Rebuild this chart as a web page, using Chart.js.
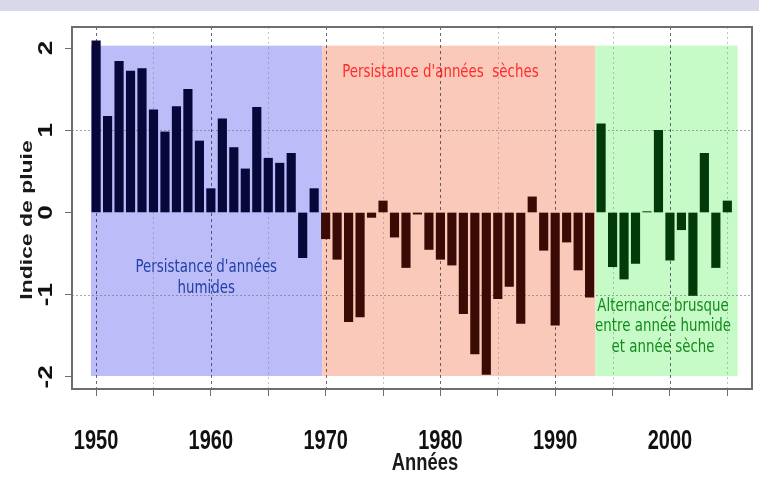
<!DOCTYPE html>
<html>
<head>
<meta charset="utf-8">
<script src="https://cdn.jsdelivr.net/npm/chart.js@4.4.0/dist/chart.umd.min.js"></script>
<style>
  html, body { margin: 0; padding: 0; background: #fff; }
  canvas { display: block; }
</style>
</head>
<body>
<canvas id="pluie" width="759" height="481"></canvas>
<script>
// Indice de pluie annuel, 1950-2005
const annees = [
    1950, 1951, 1952, 1953, 1954, 1955, 1956, 1957, 1958, 1959,
    1960, 1961, 1962, 1963, 1964, 1965, 1966, 1967, 1968, 1969,
    1970, 1971, 1972, 1973, 1974, 1975, 1976, 1977, 1978, 1979,
    1980, 1981, 1982, 1983, 1984, 1985, 1986, 1987, 1988, 1989,
    1990, 1991, 1992, 1993, 1994, 1995, 1996, 1997, 1998, 1999,
    2000, 2001, 2002, 2003, 2004, 2005
];
const indice = [
    2.09, 1.17, 1.84, 1.72, 1.75, 1.25, 0.98, 1.29, 1.50, 0.87,
    0.29, 1.14, 0.79, 0.53, 1.28, 0.66, 0.60, 0.72, -0.55, 0.29,
    -0.32, -0.57, -1.33, -1.27, -0.06, 0.14, -0.30, -0.67, -0.02, -0.45,
    -0.57, -0.64, -1.23, -1.72, -1.97, -1.05, -0.90, -1.35, 0.19, -0.46,
    -1.37, -0.36, -0.70, -1.03, 1.08, -0.66, -0.81, -0.62, 0.01, 1.00,
    -0.58, -0.21, -1.01, 0.72, -0.67, 0.14
];
const xTicks = [1950, 1955, 1960, 1965, 1970, 1975, 1980, 1985, 1990, 1995, 2000, 2005];
const xLabels = ['1950', '', '1960', '', '1970', '', '1980', '', '1990', '', '2000', ''];
const yTicks = [-2, -1, 0, 1, 2];
const yLabels = ['-2', '-1', '0', '1', '2'];

// périodes : début, fin, fond, couleur des barres
const periodes = [
    { de: 1949.55, a: 1969.7, fond: '#bcbcf8', barre: '#07073a' },
    { de: 1969.7, a: 1993.5, fond: '#fbc9ba', barre: '#3a0b05' },
    { de: 1993.5, a: 2005.9, fond: '#c6fac6', barre: '#033a0a' }
];

const notes = [
    { lignes: ["Persistance d'années", 'humides'], x: 1959.6, y: -0.67, couleur: '#2240a8' },
    { lignes: ["Persistance d'années  sèches"], x: 1980.0, y: 1.71, couleur: '#ff2a2a' },
    { lignes: ['Alternance brusque', 'entre année humide', 'et année sèche'], x: 1999.4, y: -1.14, couleur: '#138a1c' }
];

function couleurBarre(an) {
    const p = periodes.find(p => an < p.a) || periodes[periodes.length - 1];
    return p.barre;
}

function texte(ctx, str, x, y, font, color, sx, sy, rot) {
    ctx.save();
    ctx.translate(x, y);
    if (rot) ctx.rotate(rot);
    ctx.scale(sx, sy);
    ctx.font = font;
    ctx.fillStyle = color;
    ctx.textAlign = 'center';
    ctx.textBaseline = 'middle';
    ctx.fillText(str, 0, 0);
    ctx.restore();
}

const decor = {
    id: 'decor',
    beforeDraw(chart) {
        const ctx = chart.ctx;
        ctx.save();
        ctx.fillStyle = '#d8d8ea';
        ctx.fillRect(0, 0, chart.width, 11);
        ctx.restore();
    },
    beforeDatasetsDraw(chart) {
        const { ctx, chartArea: a, scales: { x, y } } = chart;
        ctx.save();
        // fonds colorés
        periodes.forEach(p => {
            ctx.fillStyle = p.fond;
            const x0 = x.getPixelForValue(p.de), x1 = x.getPixelForValue(p.a);
            const y0 = y.getPixelForValue(2.03), y1 = y.getPixelForValue(-1.99);
            ctx.fillRect(x0, y0, x1 - x0, y1 - y0);
        });
        // grille
        ctx.lineWidth = 1;
        [-1, 1].forEach(v => {
            const py = Math.round(y.getPixelForValue(v)) + 0.5;
            ctx.strokeStyle = 'rgba(110,110,110,0.6)';
            ctx.setLineDash([2, 2]);
            ctx.beginPath(); ctx.moveTo(a.left, py); ctx.lineTo(a.right, py); ctx.stroke();
        });
        xTicks.forEach(v => {
            const px = Math.round(x.getPixelForValue(v)) + 0.5;
            if (v % 10 === 0) {
                ctx.strokeStyle = 'rgba(40,40,60,0.7)';
                ctx.setLineDash([3, 3]);
            } else {
                ctx.strokeStyle = 'rgba(120,120,130,0.45)';
                ctx.setLineDash([2, 3]);
            }
            ctx.beginPath(); ctx.moveTo(px, a.top); ctx.lineTo(px, a.bottom); ctx.stroke();
        });
        ctx.restore();
    },
    afterDatasetsDraw(chart) {
        const { ctx, scales: { x, y } } = chart;
        notes.forEach(n => {
            n.lignes.forEach((l, i) => {
                texte(ctx, l, x.getPixelForValue(n.x), y.getPixelForValue(n.y) + i * 20.5,
                    '13px "DejaVu Sans"', n.couleur, 1.03, 1.35, 0);
            });
        });
    },
    afterDraw(chart) {
        const { ctx, chartArea: a, scales: { x, y } } = chart;
        ctx.save();
        ctx.strokeStyle = '#6e6e6e';
        ctx.lineWidth = 2;
        ctx.setLineDash([]);
        ctx.strokeRect(a.left, a.top, a.right - a.left, a.bottom - a.top);
        ctx.restore();
        // étiquettes des axes (texte étiré verticalement comme sur la figure)
        xTicks.forEach((v, i) => {
            if (xLabels[i]) texte(ctx, xLabels[i], x.getPixelForValue(v), 441,
                'bold 20px "Liberation Sans", Arial, sans-serif', '#111', 1, 1.42, 0);
        });
        texte(ctx, 'Années', 425, 463, 'bold 18px "Liberation Sans", Arial, sans-serif',
            '#1a1a1a', 1.02, 1.35, 0);
        yTicks.forEach((v, i) => {
            texte(ctx, yLabels[i], 46, y.getPixelForValue(v), 'bold 20px "Liberation Sans", Arial, sans-serif',
                '#111', 1.3, 1, -Math.PI / 2);
        });
        texte(ctx, 'Indice de pluie', 27, 220, 'bold 17px "Liberation Sans", Arial, sans-serif',
            '#1a1a1a', 1.35, 1, -Math.PI / 2);
    }
};

new Chart(document.getElementById('pluie'), {
    type: 'bar',
    data: {
        datasets: [{
            label: 'Indice de pluie',
            data: annees.map((an, i) => ({ x: an, y: indice[i] })),
            backgroundColor: annees.map(couleurBarre),
            borderWidth: 0,
            barThickness: 8.5
        }]
    },
    options: {
        responsive: false,
        animation: false,
        layout: { padding: { top: 27, right: 7, left: 0, bottom: 0 } },
        plugins: {
            legend: { display: false },
            tooltip: { enabled: false }
        },
        scales: {
            x: {
                type: 'linear',
                offset: false,
                min: 1947.9,
                max: 2007.15,
                afterBuildTicks: s => { s.ticks = xTicks.map(v => ({ value: v })); },
                afterFit: s => { s.height = 92; },
                ticks: { display: false, autoSkip: false, maxRotation: 0 },
                grid: { offset: false, drawOnChartArea: false, drawTicks: true, tickLength: 7, color: '#6e6e6e' },
                border: { display: false }
            },
            y: {
                min: -2.148,
                max: 2.257,
                afterBuildTicks: s => { s.ticks = yTicks.map(v => ({ value: v })); },
                afterFit: s => { s.width = 72; },
                ticks: { display: false },
                grid: { drawOnChartArea: false, drawTicks: true, tickLength: 7, color: '#6e6e6e' },
                border: { display: false }
            }
        }
    },
    plugins: [decor]
});
</script>
</body>
</html>
